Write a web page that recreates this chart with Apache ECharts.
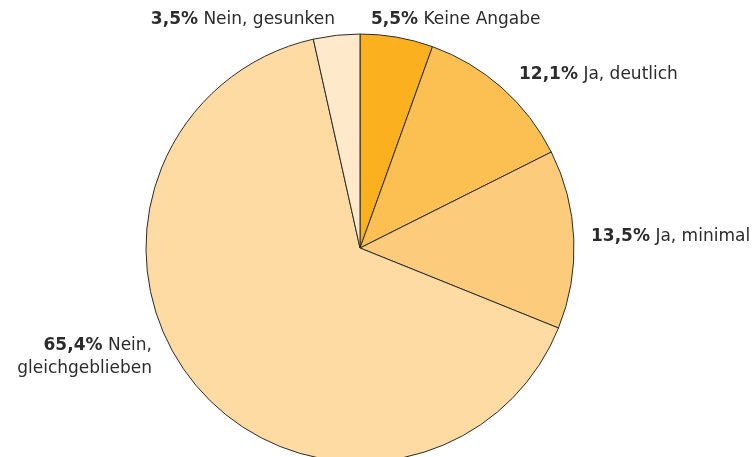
<!DOCTYPE html>
<html><head><meta charset="utf-8">
<script src="https://cdn.jsdelivr.net/npm/echarts@6/dist/echarts.min.js"></script>
<style>html,body{margin:0;padding:0;background:#fff}#c{width:755px;height:457px}</style>
</head><body><div id="c"></div>
<script>
const categories = ['Keine Angabe', 'Ja, deutlich', 'Ja, minimal', 'Nein,\ngleichgeblieben', 'Nein, gesunken'];
const values = [5.5, 12.1, 13.5, 65.4, 3.5];
const colors = ['#FBB01F', '#FCBF52', '#FDCB7C', '#FEDBA2', '#FEE9CB'];
// label anchor points [x, y, align]
const labelPos = [[371, 20, 'left'], [519, 75, 'left'], [591, 237, 'left'], [152, 357, 'right'], [335, 20, 'right']];
const FONT = 'DejaVu Sans, Liberation Sans, Arial, sans-serif';

const chart = echarts.init(document.getElementById('c'), null, {renderer: 'canvas'});
chart.setOption({
  animation: false,
  series: [{
    type: 'pie',
    center: [360, 248],
    radius: 214,
    startAngle: 90,
    clockwise: true,
    avoidLabelOverlap: false,
    itemStyle: {borderColor: '#2b2b2b', borderWidth: 1},
    labelLine: {show: false},
    label: {
      show: true,
      position: 'outside',
      fontFamily: FONT,
      fontSize: 17,
      color: '#2b2b2b',
      lineHeight: 23,
      formatter: p => '{b|' + values[p.dataIndex].toFixed(1).replace('.', ',') + '%} ' + categories[p.dataIndex],
      rich: {b: {fontWeight: 'bold', fontSize: 17, lineHeight: 23, fontFamily: FONT, color: '#2b2b2b'}}
    },
    labelLayout: p => {
      const lp = labelPos[p.dataIndex];
      return {x: lp[0], y: lp[1], align: lp[2], verticalAlign: 'middle'};
    },
    data: categories.map((c, i) => ({name: c, value: values[i], itemStyle: {color: colors[i]}, label: {align: labelPos[i][2]}}))
  }]
});
</script></body></html>
